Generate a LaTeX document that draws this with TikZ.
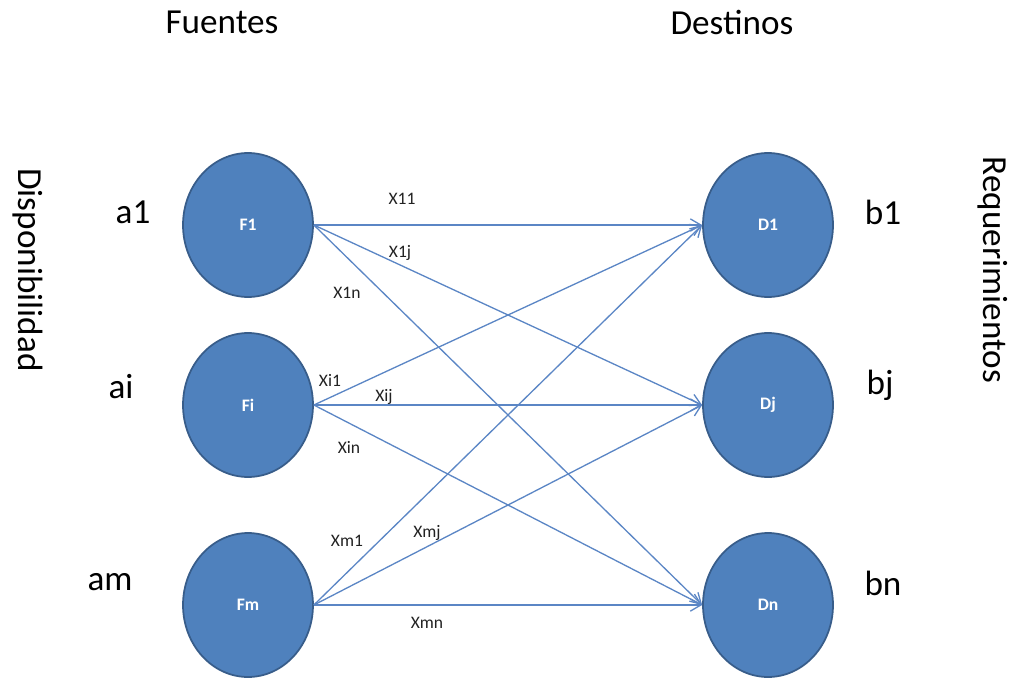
\documentclass[tikz,border=0pt]{standalone}
\usepackage{fontspec}
\setmainfont{Carlito}
\usepackage{tikz}
\usetikzlibrary{shapes.geometric,arrows.meta}
\definecolor{nodefill}{HTML}{4F81BD}
\definecolor{nodeedge}{HTML}{385D8A}
\definecolor{arrowc}{HTML}{5B86C5}
\definecolor{textc}{HTML}{222222}

\tikzset{
  site/.style={ellipse, fill=nodefill, draw=nodeedge, line width=1pt,
    minimum width=2.6cm, minimum height=2.88cm, inner sep=0pt,
    text=white, font=\fontsize{10}{12}\selectfont\bfseries},
  flow/.style={arrowc, line width=0.75pt, -{Straight Barb[length=6pt,width=7pt]}},
  cost/.style={text=textc, font=\fontsize{10}{12}\selectfont},
  big/.style={text=black, font=\fontsize{20}{24}\selectfont},
}

\begin{document}
\begin{tikzpicture}[x=0.02cm, y=-0.02cm]
  \useasboundingbox (0,0) rectangle (1018,677);
  % column titles
  \node[big] (fuentes) at (222,22) {Fuentes};
  \node[big] (destinos) at (732,22) {Destinos};
  \node[big, rotate=-90] (disp) at (28,270) {Disponibilidad};
  \node[big, rotate=-90] (req) at (993,270) {Requerimientos};

  % sources and destinations
  \node[site] (F1) at (248,225) {F1};
  \node[site] (Fi) at (248,405) {Fi};
  \node[site] (Fm) at (248,605) {Fm};
  \node[site] (D1) at (768,225) {D1};
  \node[site] (Dj) at (768,405) {Dj};
  \node[site] (Dn) at (768,605) {Dn};

  % supply and demand
  \node[big] (a1) at (133,212) {a1};
  \node[big] (ai) at (121,387) {ai};
  \node[big] (am) at (110,582) {am};
  \node[big] (b1) at (883,212) {b1};
  \node[big] (bj) at (880,385) {bj};
  \node[big] (bn) at (883,583) {bn};

  % flows
  \foreach \s in {F1,Fi,Fm}
    \foreach \d in {D1,Dj,Dn}
      \draw[flow] (\s.east) -- (\d.west);

  \node[cost] (x11) at (402,199) {X11};
  \node[cost] (x1j) at (400,253) {X1j};
  \node[cost] (x1n) at (347,293) {X1n};
  \node[cost] (xi1) at (330,380) {Xi1};
  \node[cost] (xij) at (384,397) {Xij};
  \node[cost] (xin) at (349,447) {Xin};
  \node[cost] (xm1) at (347,541) {Xm1};
  \node[cost] (xmj) at (427,533) {Xmj};
  \node[cost] (xmn) at (427,623) {Xmn};
\end{tikzpicture}
\end{document}
